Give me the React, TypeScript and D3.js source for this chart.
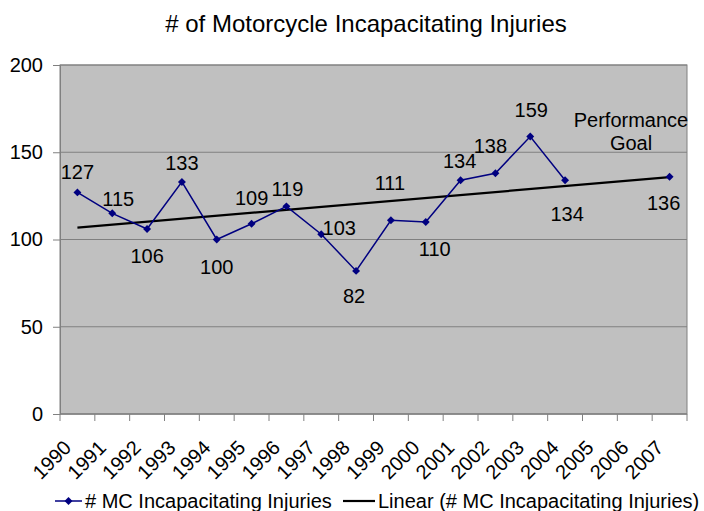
import React, { useEffect, useRef } from 'react';
import * as d3 from 'd3';

const years = ['1990', '1991', '1992', '1993', '1994', '1995', '1996', '1997', '1998',
  '1999', '2000', '2001', '2002', '2003', '2004', '2005', '2006', '2007'];
// null = no value reported for that year
const injuries: (number | null)[] = [127, 115, 106, 133, 100, 109, 119, 103, 82,
  111, 110, 134, 138, 159, 134, null, null, 136];
const yTicks = [0, 50, 100, 150, 200];

// where each value label sits relative to its point (px)
const labelDx = [0, 6, 0, 0, 0, 0, 1, 18, -2, -1, 9, -1, -5, 1, 2, 0, 0, -6];
const labelDy = [-20, -14, 27, -19, 27, -26, -17, -6, 25, -37, 27, -19, -27, -27, 34, 0, 0, 26];

const seriesName = '# MC Incapacitating Injuries';
const trendName = 'Linear (# MC Incapacitating Injuries)';

const App = () => {
  const ref = useRef<SVGSVGElement>(null);

  useEffect(() => {
    const width = 704;
    const height = 511;
    const margin = { top: 65, right: 17, bottom: 97, left: 60 };
    const font = '"Liberation Sans", Arial, sans-serif';

    const svg = d3.select(ref.current);
    svg.selectAll('*').remove();

    const x = d3.scaleBand<string>()
      .domain(years)
      .range([margin.left, width - margin.right])
      .padding(0);

    const y = d3.scaleLinear()
      .domain([0, 200])
      .range([height - margin.bottom, margin.top]);

    const cx = (yr: string) => (x(yr) as number) + x.bandwidth() / 2;

    svg.append('rect')
      .attr('width', width)
      .attr('height', height)
      .attr('fill', '#ffffff');

    svg.append('text')
      .attr('x', 366)
      .attr('y', 32)
      .attr('text-anchor', 'middle')
      .style('font-family', font)
      .style('font-size', '24px')
      .text('# of Motorcycle Incapacitating Injuries');

    // plot area
    svg.append('rect')
      .attr('x', margin.left)
      .attr('y', margin.top)
      .attr('width', width - margin.right - margin.left)
      .attr('height', height - margin.bottom - margin.top)
      .attr('fill', '#c0c0c0')
      .attr('stroke', '#808080')
      .attr('stroke-width', 1);

    svg.selectAll('.grid')
      .data(yTicks)
      .enter().append('line')
      .attr('class', 'grid')
      .attr('x1', margin.left)
      .attr('x2', width - margin.right)
      .attr('y1', d => y(d))
      .attr('y2', d => y(d))
      .attr('stroke', '#808080')
      .attr('stroke-width', 1);

    const yAxis = svg.append('g')
      .attr('transform', `translate(${margin.left}, 0)`)
      .call(d3.axisLeft(y).tickValues(yTicks).tickSize(7).tickPadding(10));
    yAxis.select('.domain').attr('stroke', '#808080');
    yAxis.selectAll('.tick line').attr('stroke', '#808080');
    yAxis.selectAll('text')
      .style('font-family', font)
      .style('font-size', '20px')
      .attr('fill', '#000');

    // x axis: ticks sit on band boundaries
    const xBase = height - margin.bottom;
    svg.append('line')
      .attr('x1', margin.left)
      .attr('x2', width - margin.right)
      .attr('y1', xBase)
      .attr('y2', xBase)
      .attr('stroke', '#808080');
    const bounds = years.map(yr => x(yr) as number).concat([width - margin.right]);
    svg.selectAll('.xtick')
      .data(bounds)
      .enter().append('line')
      .attr('class', 'xtick')
      .attr('x1', d => d)
      .attr('x2', d => d)
      .attr('y1', xBase)
      .attr('y2', xBase + 7)
      .attr('stroke', '#808080');
    svg.selectAll('.xlabel')
      .data(years)
      .enter().append('text')
      .attr('class', 'xlabel')
      .attr('transform', d => `translate(${cx(d) - 5}, ${xBase + 35}) rotate(-45)`)
      .attr('text-anchor', 'end')
      .style('font-family', font)
      .style('font-size', '20px')
      .text(d => d);

    // linear trend (least squares on category index, like the spreadsheet)
    const pts = years
      .map((yr, i) => ({ yr, i: i + 1, v: injuries[i] }))
      .filter(p => p.v !== null) as { yr: string; i: number; v: number }[];
    const mx = d3.mean(pts, p => p.i) as number;
    const my = d3.mean(pts, p => p.v) as number;
    const slope = (d3.sum(pts, p => (p.i - mx) * (p.v - my))) /
      (d3.sum(pts, p => (p.i - mx) * (p.i - mx)));
    const icpt = my - slope * mx;
    const ends = [pts[0], pts[pts.length - 1]];
    svg.append('path')
      .datum(ends)
      .attr('fill', 'none')
      .attr('stroke', '#000')
      .attr('stroke-width', 2.2)
      .attr('d', d3.line<{ yr: string; i: number }>()
        .x(p => cx(p.yr))
        .y(p => y(icpt + slope * p.i)));

    // series line, broken across missing years (as Excel does with gaps)
    const line = d3.line<{ yr: string; v: number | null }>()
      .defined(p => p.v !== null)
      .x(p => cx(p.yr))
      .y(p => y(p.v as number));
    const seriesPts = years.map((yr, i) => ({ yr, v: injuries[i] }));
    svg.append('path')
      .datum(seriesPts)
      .attr('fill', 'none')
      .attr('stroke', '#000080')
      .attr('stroke-width', 1.5)
      .attr('d', line);

    const diamond = d3.symbol().type(d3.symbolDiamond2).size(40);
    svg.selectAll('.marker')
      .data(pts)
      .enter().append('path')
      .attr('class', 'marker')
      .attr('transform', p => `translate(${cx(p.yr)}, ${y(p.v)})`)
      .attr('d', diamond)
      .attr('fill', '#000080');

    svg.selectAll('.vlabel')
      .data(pts)
      .enter().append('text')
      .attr('class', 'vlabel')
      .attr('x', p => cx(p.yr) + labelDx[p.i - 1])
      .attr('y', p => y(p.v) + labelDy[p.i - 1])
      .attr('dy', '0.35em')
      .attr('text-anchor', 'middle')
      .style('font-family', font)
      .style('font-size', '20px')
      .text(p => String(p.v));

    const goal = svg.append('text')
      .attr('text-anchor', 'middle')
      .style('font-family', font)
      .style('font-size', '20px');
    goal.append('tspan').attr('x', 631).attr('y', 127).text('Performance');
    goal.append('tspan').attr('x', 631).attr('y', 150).text('Goal');

    // legend
    const ly = 501;
    const lg = svg.append('g');
    lg.append('line')
      .attr('x1', 55).attr('x2', 82)
      .attr('y1', ly).attr('y2', ly)
      .attr('stroke', '#000080').attr('stroke-width', 1.5);
    lg.append('path')
      .attr('transform', `translate(68.5, ${ly})`)
      .attr('d', diamond)
      .attr('fill', '#000080');
    lg.append('text')
      .attr('x', 85).attr('y', 508)
      .style('font-family', font)
      .style('font-size', '20px')
      .text(seriesName);
    lg.append('line')
      .attr('x1', 343).attr('x2', 375)
      .attr('y1', ly).attr('y2', ly)
      .attr('stroke', '#000').attr('stroke-width', 2.2);
    lg.append('text')
      .attr('x', 378).attr('y', 508)
      .style('font-family', font)
      .style('font-size', '20px')
      .text(trendName);
  }, []);

  return (
    <svg ref={ref} width={704} height={511}
      style={{ position: 'absolute', left: 0, top: 0, display: 'block' }} />
  );
};

export default App;
